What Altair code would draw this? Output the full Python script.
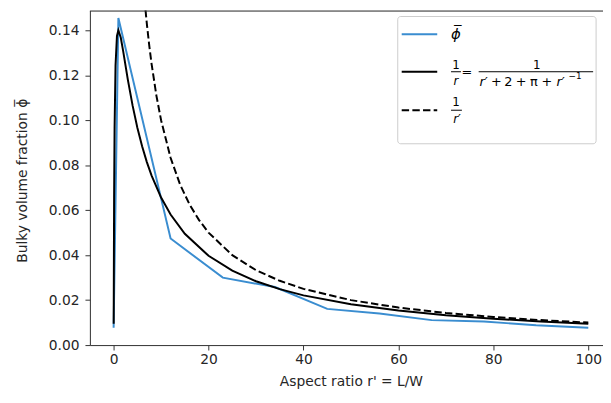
import altair as alt
import pandas as pd

FONT = "DejaVu Sans"
TXT = "#262626"

# measured blue series (phi bar)
phi_x = [0, 1, 12, 23, 34, 45, 56, 67, 78, 89, 100]
phi_y = [0.0077, 0.1455, 0.0474, 0.0300, 0.0258, 0.0161, 0.0140, 0.0111, 0.0105, 0.0088, 0.0077]

model_x = [0.01, 0.1, 0.2, 0.4, 0.7, 1, 1.5, 2, 3, 4, 5, 6, 7, 8, 10, 12, 15, 20,
           25, 30, 35, 40, 50, 60, 70, 80, 90, 100]
model_y = [0.00951, 0.0656, 0.0967, 0.1244, 0.1375, 0.1400, 0.1368, 0.1309, 0.1180,
           0.1065, 0.0967, 0.0884, 0.0814, 0.0754, 0.0656, 0.0581, 0.0495, 0.0397,
           0.0331, 0.0284, 0.0249, 0.0221, 0.01813, 0.01535, 0.01331, 0.01174,
           0.01051, 0.00951]

dash_x = [6.5, 7, 7.5, 8, 9, 10, 12, 14, 16, 18, 20, 25, 30, 35, 40, 50, 60, 70, 80, 90, 100]
dash_y = [0.1538, 0.1429, 0.1333, 0.125, 0.1111, 0.1, 0.0833, 0.0714, 0.0625, 0.0556,
          0.05, 0.04, 0.0333, 0.0286, 0.025, 0.02, 0.01667, 0.01429, 0.0125, 0.01111, 0.01]

x_ticks = [0, 20, 40, 60, 80, 100]
y_ticks = [0.0, 0.02, 0.04, 0.06, 0.08, 0.10, 0.12, 0.14]

BLUE = "#3a8dd0"

W, H = 520, 339
xs = alt.Scale(domain=[-5, 103.1], nice=False, zero=False)
ys = alt.Scale(domain=[0, 0.1488], nice=False, zero=False)

x_axis = alt.Axis(values=x_ticks, format="d", grid=False, tickSize=5, labelPadding=3,
                  labelFontSize=14, labelFont=FONT, labelColor=TXT,
                  domainColor="#333333", tickColor="#333333", domainWidth=1,
                  title="Aspect ratio r' = L/W", titleFont=FONT, titleFontSize=14,
                  titleFontWeight="normal", titleColor=TXT, titleX=264.5, titleY=37,
                  titleBaseline="middle", titleAlign="center")
y_axis = alt.Axis(values=y_ticks, format=".2f", grid=False, tickSize=5, labelPadding=6,
                  labelFontSize=14, labelFont=FONT, labelColor=TXT,
                  domainColor="#333333", tickColor="#333333", domainWidth=1,
                  title="Bulky volume fraction \u03d5\u0305", titleFont=FONT, titleFontSize=14,
                  titleFontWeight="normal", titleColor=TXT, titleX=-68, titleY=172,
                  titleAngle=270, titleBaseline="middle", titleAlign="center")

df_phi = pd.DataFrame({"x": phi_x, "y": phi_y})
df_model = pd.DataFrame({"x": model_x, "y": model_y})
df_dash = pd.DataFrame({"x": dash_x, "y": dash_y})

blue = alt.Chart(df_phi).mark_line(color=BLUE, strokeWidth=2, clip=True).encode(
    x=alt.X("x:Q", scale=xs, axis=x_axis),
    y=alt.Y("y:Q", scale=ys, axis=y_axis),
)
black = alt.Chart(df_model).mark_line(color="#000000", strokeWidth=2, clip=True).encode(
    x="x:Q", y="y:Q")
dashed = alt.Chart(df_dash).mark_line(color="#000000", strokeWidth=2, strokeDash=[7.5, 3.3],
                                      clip=True).encode(x="x:Q", y="y:Q")

one = pd.DataFrame({"a": [0]})

top_spine = alt.Chart(one).mark_rule(color="#333333", strokeWidth=1).encode(
    x=alt.value(0), x2=alt.value(W), y=alt.value(0.5))

legend_box = alt.Chart(one).mark_rect(fill="white", fillOpacity=0.8, stroke="#cccccc",
                                      strokeWidth=1, cornerRadius=3).encode(
    x=alt.value(312), x2=alt.value(513), y=alt.value(6), y2=alt.value(135))


def seg(x1, x2, y, color, dash=None, width=2):
    kw = dict(color=color, strokeWidth=width)
    if dash:
        kw["strokeDash"] = dash
    return alt.Chart(one).mark_rule(**kw).encode(
        x=alt.value(x1), x2=alt.value(x2), y=alt.value(y))


def txt(s, x, y, size=13, italic=False, align="center"):
    return alt.Chart(one).mark_text(text=s, font=FONT, fontSize=size,
                                    fontStyle="italic" if italic else "normal",
                                    align=align, baseline="middle", color="#000000").encode(
        x=alt.value(x), y=alt.value(y))


legend_parts = [
    legend_box,
    seg(316, 352, 24, BLUE),
    seg(316, 352, 62, "#000000"),
    seg(316, 352, 101, "#000000", dash=[7.5, 3.3]),
    txt("\u03d5\u0305", 371, 24, size=15, italic=True),
    # 1/r = 1/(r' + 2 + pi + r'^-1)
    txt("1", 371, 55, size=12),
    seg(366, 376, 62, "#000000", width=1),
    txt("r", 371, 71, size=12, italic=True),
    txt("=", 382, 62, size=13),
    txt("1", 453, 55, size=12),
    seg(394, 510, 62, "#000000", width=1),
    txt("r\u2032", 399, 72, size=13, italic=True),
    txt("+", 412, 72, size=13),
    txt("2", 424, 72, size=13),
    txt("+", 437, 72, size=13),
    txt("\u03c0", 450, 72, size=13),
    txt("+", 463, 72, size=13),
    txt("r\u2032", 477, 72, size=13, italic=True),
    txt("\u22121", 485, 66, size=9, align="left"),
    # 1/r'
    txt("1", 371, 93, size=12),
    seg(366, 377, 101, "#000000", width=1),
    txt("r\u2032", 372, 110, size=12, italic=True),
]

chart = alt.layer(blue, black, dashed, top_spine, *legend_parts).properties(
    width=W, height=H,
    autosize=alt.AutoSizeParams(type="none"),
    padding={"left": 83, "top": 0, "right": 0, "bottom": 48},
).configure_view(stroke=None).configure(background="white")

chart.save("out.html", embed_options={"renderer": "svg", "actions": False})
